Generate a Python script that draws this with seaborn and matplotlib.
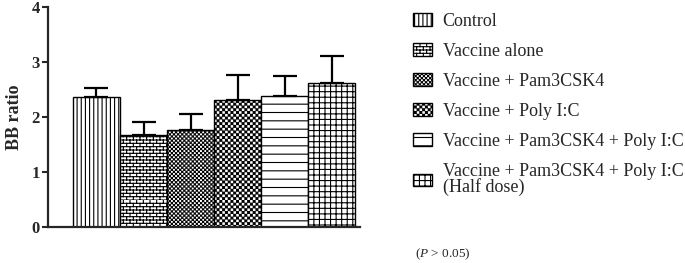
import warnings
warnings.filterwarnings("ignore")
import numpy as np
import matplotlib
matplotlib.use("Agg")
import matplotlib.pyplot as plt
from matplotlib import hatch as mhatch
from matplotlib.path import Path
import seaborn as sns
import pandas as pd

groups = ["Control", "Vaccine alone", "Vaccine + Pam3CSK4", "Vaccine + Poly I:C",
          "Vaccine + Pam3CSK4 + Poly I:C", "Vaccine + Pam3CSK4 + Poly I:C\n(Half dose)"]
means = [2.36, 1.67, 1.77, 2.31, 2.38, 2.61]
errors = [0.17, 0.24, 0.29, 0.45, 0.36, 0.50]
hatches = ["||||", "bbbbb", "cccccccc", "cccccc", "--", "+++"]


# ---- custom hatch patterns (checkerboard 'c', brick 'b') ----
class _CustomHatch(mhatch.HatchPatternBase):
    char = None

    def __init__(self, hatch, density):
        k = hatch.count(self.char) * density
        if k == 0:
            self.verts = np.zeros((0, 2))
            self.codes = np.zeros(0, dtype=Path.code_type)
        else:
            self.verts, self.codes = self.build(k)
        self.num_vertices = len(self.verts)

    def set_vertices_and_codes(self, vertices, codes):
        vertices[:] = self.verts
        codes[:] = self.codes


class Checker(_CustomHatch):
    char = "c"

    def build(self, n):
        s = 1.0 / n
        shrink = 0.0045  # compensates for the hatch stroke width
        verts, codes = [], []
        for i in range(n):
            for j in range(n):
                if (i + j) % 2 == 0:
                    x0, y0 = j * s + shrink, i * s + shrink
                    x1, y1 = (j + 1) * s - shrink, (i + 1) * s - shrink
                    verts += [(x0, y0), (x1, y0), (x1, y1), (x0, y1), (x0, y0)]
                    codes += [Path.MOVETO, Path.LINETO, Path.LINETO, Path.LINETO, Path.CLOSEPOLY]
        return np.array(verts, float), np.array(codes, dtype=Path.code_type)


class Brick(_CustomHatch):
    char = "b"

    def build(self, n):
        if n % 2:
            n += 1
        s = 1.0 / n
        verts, codes = [], []
        for i in range(n):
            verts += [(0, i * s), (1, i * s)]
            codes += [Path.MOVETO, Path.LINETO]
            for j in range(n // 2):
                x = (j + 0.5 * (i % 2)) * 2 * s
                verts += [(x, i * s), (x, (i + 1) * s)]
                codes += [Path.MOVETO, Path.LINETO]
        return np.array(verts, float), np.array(codes, dtype=Path.code_type)


mhatch._hatch_types.extend([Checker, Brick])

sns.set_style("ticks")
plt.rcParams["font.family"] = ["Liberation Serif", "DejaVu Serif"]
plt.rcParams["hatch.linewidth"] = 0.8
plt.rcParams["mathtext.fontset"] = "custom"
plt.rcParams["mathtext.it"] = "Liberation Serif:italic"
plt.rcParams["mathtext.rm"] = "Liberation Serif"

df = pd.DataFrame({"group": groups, "value": means})

fig = plt.figure(figsize=(6.85, 2.63), dpi=100)
ax = fig.add_axes([48/685, 1-227/263, (360-48)/685, 220/263])
sns.barplot(data=df, x="group", y="value", color="white", edgecolor="black",
            linewidth=1.0, width=1.0, saturation=1, ax=ax, errorbar=None)
for p, h in zip(ax.patches, hatches):
    p.set_hatch(h)
    p.set_facecolor("white")
ax.errorbar(range(len(groups)), means, yerr=[[0]*len(errors), errors], fmt="none",
            ecolor="black", elinewidth=1.6, capsize=8.5, capthick=1.6, zorder=1)

ax.set_xlim(-1.03, 5.6)
ax.set_ylim(0, 4)
ax.set_yticks([0, 1, 2, 3, 4])
ax.set_xticks([])
ax.set_xlabel("")
ax.set_ylabel("BB ratio", fontsize=13, fontweight="bold", labelpad=6)
for lbl in ax.get_yticklabels():
    lbl.set_fontweight("bold")
    lbl.set_fontsize(12)
ax.tick_params(axis="y", length=4, width=1.5, pad=2)
for s in ["left", "bottom"]:
    ax.spines[s].set_linewidth(1.6)
sns.despine(ax=ax)

leg = fig.legend(handles=ax.patches[:6], labels=groups, loc="upper left",
                 bbox_to_anchor=(403/685, 1 - 3/263), frameon=False, fontsize=13,
                 handlelength=1.05, handleheight=0.67, handletextpad=0.6,
                 labelspacing=0.72, borderaxespad=0.15)
leg.get_texts()[5].set_linespacing(0.9)
fig.text(415/685, 1-254/263, r"($\mathit{P}$ > 0.05)", fontsize=9.5, va="center", ha="left")

fig.savefig("out.png", dpi=100)
